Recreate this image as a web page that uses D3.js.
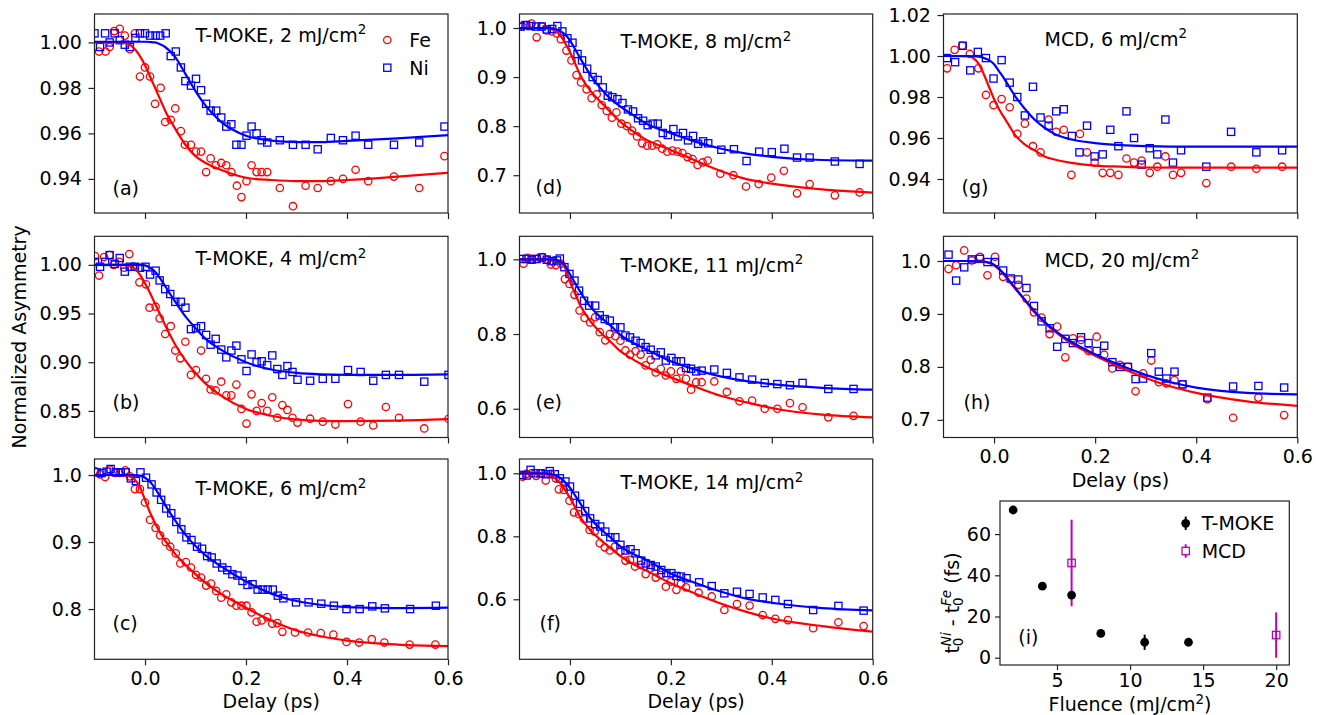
<!DOCTYPE html>
<html>
<head>
<meta charset="utf-8">
<script src="https://cdn.jsdelivr.net/npm/d3@7"></script>
<style>
  body { margin: 0; background: #fff; }
  text { font-family: "DejaVu Sans", sans-serif; fill: #000; }
</style>
</head>
<body>
<svg id="fig" width="1324" height="715"></svg>
<script>
// ---------- data ----------
// delay grid on which the fit curves were read
var fitX = [-0.1, -0.05, -0.03, -0.02, -0.01, 0.0, 0.01, 0.02, 0.03, 0.04, 0.06, 0.08, 0.1, 0.12, 0.15, 0.2, 0.25, 0.3, 0.35, 0.4, 0.5, 0.6];

// (a) T-MOKE 2 mJ/cm2
var feA = [[-0.091,0.996],[-0.078,0.996],[-0.070,0.998],[-0.061,1.005],[-0.050,1.006],[-0.040,1.003],[-0.030,0.997],[-0.020,1.004],[-0.010,0.985],[0.000,0.989],[0.010,0.985],[0.020,0.973],[0.031,0.980],[0.040,0.965],[0.051,0.966],[0.060,0.971],[0.071,0.961],[0.079,0.955],[0.091,0.955],[0.101,0.952],[0.111,0.952],[0.121,0.943],[0.130,0.949],[0.140,0.946],[0.151,0.947],[0.161,0.946],[0.171,0.943],[0.182,0.937],[0.191,0.932],[0.201,0.939],[0.211,0.946],[0.221,0.943],[0.231,0.943],[0.242,0.943],[0.267,0.936],[0.293,0.928],[0.318,0.937],[0.342,0.936],[0.368,0.939],[0.392,0.940],[0.417,0.944],[0.442,0.939],[0.493,0.941],[0.543,0.936],[0.593,0.950]];
var niA = [[-0.100,1.004],[-0.089,0.998],[-0.079,1.004],[-0.070,1.000],[-0.060,1.004],[-0.050,1.001],[-0.040,0.999],[-0.030,0.998],[-0.019,1.002],[-0.010,1.004],[0.000,1.004],[0.010,1.003],[0.021,1.003],[0.030,1.003],[0.041,1.004],[0.051,0.994],[0.061,0.996],[0.071,0.989],[0.080,0.983],[0.091,0.981],[0.101,0.984],[0.111,0.979],[0.121,0.973],[0.130,0.970],[0.141,0.970],[0.151,0.967],[0.161,0.963],[0.171,0.964],[0.181,0.955],[0.191,0.955],[0.201,0.959],[0.211,0.963],[0.221,0.960],[0.231,0.957],[0.242,0.956],[0.267,0.957],[0.293,0.955],[0.318,0.955],[0.342,0.953],[0.368,0.958],[0.392,0.957],[0.417,0.959],[0.442,0.955],[0.493,0.955],[0.543,0.956],[0.593,0.963]];
var fitFeA = [1.000,1.000,0.999,0.997,0.994,0.990,0.985,0.980,0.975,0.970,0.962,0.955,0.950,0.947,0.944,0.9405,0.9395,0.939,0.939,0.9395,0.941,0.9427];
var fitNiA = [1.0003,1.0003,1.0003,1.0003,1.0003,1.0003,1.0002,1.000,0.9992,0.998,0.9935,0.9862,0.9786,0.9722,0.9652,0.959,0.9568,0.9562,0.9562,0.9567,0.9578,0.9592];

// (b) T-MOKE 4 mJ/cm2
var feB = [[-0.099,1.009],[-0.091,0.989],[-0.081,1.008],[-0.070,1.010],[-0.062,1.000],[-0.051,1.003],[-0.041,0.997],[-0.031,1.011],[-0.021,0.998],[-0.011,0.982],[0.002,0.980],[0.009,0.956],[0.021,0.957],[0.029,0.945],[0.040,0.929],[0.051,0.937],[0.060,0.912],[0.070,0.904],[0.080,0.921],[0.091,0.887],[0.101,0.892],[0.111,0.912],[0.121,0.883],[0.130,0.872],[0.140,0.871],[0.151,0.880],[0.161,0.866],[0.171,0.866],[0.181,0.877],[0.191,0.852],[0.201,0.837],[0.211,0.867],[0.221,0.850],[0.231,0.858],[0.242,0.850],[0.252,0.864],[0.262,0.843],[0.272,0.856],[0.282,0.851],[0.292,0.843],[0.302,0.838],[0.327,0.842],[0.352,0.839],[0.377,0.836],[0.402,0.857],[0.427,0.839],[0.452,0.835],[0.477,0.854],[0.503,0.843],[0.553,0.832],[0.601,0.842]];
var niB = [[-0.099,1.003],[-0.089,0.998],[-0.079,1.003],[-0.070,1.010],[-0.060,1.001],[-0.050,1.007],[-0.040,0.993],[-0.030,0.998],[-0.020,0.998],[-0.010,0.997],[0.001,0.998],[0.010,0.990],[0.021,0.994],[0.029,0.984],[0.040,0.975],[0.050,0.970],[0.060,0.962],[0.071,0.962],[0.080,0.956],[0.091,0.934],[0.101,0.935],[0.111,0.937],[0.121,0.928],[0.130,0.918],[0.140,0.924],[0.151,0.913],[0.161,0.905],[0.171,0.912],[0.181,0.917],[0.191,0.903],[0.201,0.891],[0.211,0.908],[0.221,0.900],[0.231,0.901],[0.242,0.897],[0.252,0.907],[0.262,0.893],[0.272,0.887],[0.282,0.896],[0.292,0.890],[0.302,0.882],[0.327,0.881],[0.352,0.883],[0.377,0.883],[0.402,0.892],[0.427,0.890],[0.452,0.881],[0.477,0.887],[0.503,0.887],[0.553,0.880],[0.601,0.887]];
var fitFeB = [1.000,1.000,0.999,0.996,0.990,0.981,0.971,0.960,0.949,0.938,0.918,0.902,0.889,0.878,0.866,0.852,0.845,0.841,0.8398,0.8395,0.840,0.8415];
var fitNiB = [1.000,1.000,1.000,1.000,1.000,0.9995,0.997,0.993,0.986,0.978,0.962,0.947,0.935,0.924,0.913,0.900,0.8925,0.889,0.8875,0.887,0.887,0.8875];

// (c) T-MOKE 6 mJ/cm2
var feC = [[-0.099,1.006],[-0.089,1.001],[-0.079,0.997],[-0.070,1.008],[-0.059,1.003],[-0.050,1.003],[-0.039,1.007],[-0.030,0.998],[-0.020,0.979],[-0.010,0.979],[0.000,0.959],[0.010,0.933],[0.021,0.921],[0.030,0.910],[0.041,0.900],[0.050,0.893],[0.061,0.883],[0.070,0.868],[0.081,0.870],[0.091,0.862],[0.101,0.851],[0.111,0.847],[0.121,0.835],[0.131,0.838],[0.141,0.827],[0.151,0.817],[0.161,0.822],[0.171,0.810],[0.181,0.805],[0.191,0.805],[0.201,0.805],[0.211,0.795],[0.221,0.781],[0.231,0.783],[0.242,0.788],[0.252,0.778],[0.262,0.779],[0.272,0.766],[0.297,0.765],[0.323,0.765],[0.348,0.764],[0.373,0.762],[0.399,0.751],[0.424,0.750],[0.449,0.755],[0.474,0.750],[0.524,0.747],[0.575,0.747]];
var niC = [[-0.096,1.004],[-0.086,1.003],[-0.076,1.005],[-0.068,1.009],[-0.058,1.004],[-0.048,1.004],[-0.038,1.004],[-0.028,0.995],[-0.018,0.991],[-0.009,1.004],[0.002,0.996],[0.013,0.986],[0.023,0.974],[0.032,0.963],[0.042,0.950],[0.052,0.943],[0.062,0.930],[0.072,0.919],[0.082,0.907],[0.092,0.903],[0.103,0.893],[0.113,0.890],[0.123,0.879],[0.132,0.877],[0.142,0.868],[0.153,0.862],[0.163,0.858],[0.173,0.852],[0.183,0.850],[0.193,0.842],[0.203,0.836],[0.213,0.837],[0.223,0.829],[0.233,0.829],[0.243,0.829],[0.253,0.829],[0.263,0.820],[0.274,0.816],[0.299,0.810],[0.324,0.810],[0.349,0.808],[0.374,0.805],[0.399,0.800],[0.425,0.800],[0.450,0.804],[0.475,0.801],[0.525,0.800],[0.576,0.805]];
var fitFeC = [1.000,1.000,0.998,0.993,0.982,0.963,0.944,0.928,0.914,0.902,0.882,0.866,0.852,0.839,0.823,0.802,0.783,0.768,0.759,0.753,0.747,0.7448];
var fitNiC = [1.000,1.000,1.000,0.9995,0.999,0.996,0.990,0.980,0.968,0.955,0.932,0.911,0.894,0.880,0.864,0.841,0.823,0.812,0.806,0.803,0.8015,0.802];

// (d) T-MOKE 8 mJ/cm2
var feD = [[-0.094,1.003],[-0.086,1.006],[-0.076,1.009],[-0.066,0.981],[-0.056,1.003],[-0.046,0.995],[-0.036,0.993],[-0.026,0.989],[-0.018,0.977],[-0.007,0.954],[0.003,0.934],[0.013,0.904],[0.022,0.889],[0.033,0.875],[0.043,0.857],[0.053,0.865],[0.063,0.843],[0.073,0.831],[0.083,0.817],[0.092,0.828],[0.102,0.805],[0.113,0.800],[0.123,0.791],[0.133,0.779],[0.143,0.765],[0.153,0.760],[0.163,0.760],[0.173,0.763],[0.183,0.754],[0.193,0.748],[0.203,0.750],[0.213,0.748],[0.223,0.745],[0.233,0.737],[0.243,0.733],[0.253,0.721],[0.263,0.726],[0.273,0.730],[0.298,0.703],[0.324,0.700],[0.349,0.677],[0.374,0.682],[0.399,0.695],[0.424,0.709],[0.450,0.663],[0.475,0.682],[0.525,0.659],[0.574,0.665]];
var niD = [[-0.098,1.003],[-0.088,1.006],[-0.078,1.004],[-0.067,1.003],[-0.056,1.003],[-0.046,0.997],[-0.035,0.998],[-0.025,1.004],[-0.015,0.993],[-0.005,0.979],[0.005,0.970],[0.015,0.947],[0.024,0.934],[0.034,0.917],[0.045,0.900],[0.055,0.894],[0.065,0.879],[0.075,0.862],[0.084,0.859],[0.094,0.855],[0.104,0.847],[0.115,0.834],[0.125,0.830],[0.135,0.816],[0.145,0.811],[0.154,0.802],[0.164,0.805],[0.174,0.805],[0.184,0.786],[0.194,0.782],[0.205,0.794],[0.214,0.779],[0.224,0.786],[0.234,0.771],[0.244,0.780],[0.254,0.764],[0.264,0.769],[0.274,0.765],[0.300,0.752],[0.325,0.753],[0.350,0.729],[0.375,0.748],[0.400,0.747],[0.425,0.754],[0.450,0.736],[0.475,0.736],[0.525,0.728],[0.574,0.723]];
var fitFeD = [1.000,0.9995,0.995,0.986,0.970,0.951,0.928,0.905,0.887,0.873,0.850,0.829,0.809,0.793,0.773,0.7515,0.729,0.708,0.692,0.683,0.671,0.6646];
var fitNiD = [1.000,1.000,0.998,0.994,0.987,0.975,0.957,0.939,0.922,0.905,0.878,0.856,0.840,0.826,0.806,0.7855,0.768,0.754,0.744,0.7375,0.731,0.7298];

// (e) T-MOKE 11 mJ/cm2
var feE = [[-0.092,0.988],[-0.084,1.004],[-0.075,1.001],[-0.065,1.001],[-0.055,1.006],[-0.045,0.999],[-0.038,0.986],[-0.028,0.984],[-0.018,0.988],[-0.010,0.947],[-0.001,0.934],[0.009,0.905],[0.019,0.863],[0.029,0.843],[0.040,0.831],[0.050,0.845],[0.059,0.805],[0.070,0.783],[0.079,0.800],[0.090,0.794],[0.100,0.782],[0.110,0.756],[0.119,0.745],[0.130,0.754],[0.140,0.745],[0.150,0.716],[0.160,0.731],[0.170,0.697],[0.180,0.707],[0.190,0.689],[0.200,0.700],[0.211,0.680],[0.220,0.700],[0.230,0.680],[0.240,0.651],[0.250,0.671],[0.261,0.671],[0.286,0.673],[0.311,0.645],[0.336,0.620],[0.361,0.622],[0.386,0.600],[0.411,0.600],[0.436,0.615],[0.461,0.604],[0.512,0.577],[0.562,0.581]];
var niE = [[-0.096,1.001],[-0.086,1.001],[-0.076,0.999],[-0.066,1.001],[-0.056,1.005],[-0.046,0.999],[-0.036,0.995],[-0.026,0.997],[-0.020,1.002],[-0.011,0.979],[-0.001,0.961],[0.009,0.943],[0.018,0.916],[0.028,0.889],[0.038,0.876],[0.050,0.876],[0.059,0.850],[0.069,0.840],[0.079,0.836],[0.089,0.818],[0.100,0.818],[0.110,0.796],[0.119,0.791],[0.130,0.782],[0.140,0.776],[0.150,0.765],[0.160,0.758],[0.170,0.743],[0.180,0.751],[0.190,0.729],[0.201,0.736],[0.211,0.727],[0.220,0.727],[0.230,0.709],[0.240,0.707],[0.250,0.700],[0.261,0.702],[0.286,0.705],[0.311,0.696],[0.336,0.684],[0.361,0.678],[0.386,0.669],[0.411,0.666],[0.436,0.663],[0.461,0.669],[0.512,0.653],[0.562,0.653]];
var fitFeE = [1.000,1.000,0.998,0.993,0.978,0.940,0.909,0.878,0.855,0.835,0.805,0.780,0.754,0.736,0.713,0.684,0.658,0.634,0.617,0.602,0.584,0.5768];
var fitNiE = [1.000,1.000,0.999,0.995,0.984,0.960,0.937,0.914,0.893,0.874,0.846,0.823,0.798,0.780,0.760,0.727,0.704,0.686,0.674,0.666,0.656,0.651];

// (f) T-MOKE 14 mJ/cm2
var feF = [[-0.094,0.989],[-0.086,0.998],[-0.076,1.000],[-0.067,0.992],[-0.057,1.000],[-0.048,0.977],[-0.038,0.998],[-0.028,0.984],[-0.022,0.949],[-0.012,0.947],[-0.001,0.913],[0.008,0.876],[0.018,0.870],[0.028,0.854],[0.039,0.820],[0.049,0.815],[0.059,0.778],[0.069,0.765],[0.079,0.755],[0.089,0.767],[0.100,0.751],[0.110,0.723],[0.119,0.725],[0.129,0.704],[0.140,0.709],[0.150,0.680],[0.160,0.698],[0.170,0.669],[0.180,0.677],[0.190,0.640],[0.200,0.656],[0.211,0.630],[0.220,0.649],[0.230,0.638],[0.255,0.621],[0.281,0.609],[0.306,0.566],[0.331,0.585],[0.356,0.580],[0.382,0.550],[0.407,0.538],[0.432,0.534],[0.482,0.508],[0.532,0.527],[0.582,0.515]];
var niF = [[-0.096,0.995],[-0.086,0.993],[-0.078,1.011],[-0.068,1.000],[-0.058,1.000],[-0.048,0.997],[-0.040,1.007],[-0.030,0.997],[-0.020,0.984],[-0.009,0.974],[0.000,0.958],[0.010,0.929],[0.020,0.903],[0.030,0.880],[0.040,0.857],[0.050,0.839],[0.060,0.831],[0.070,0.815],[0.080,0.797],[0.090,0.797],[0.100,0.773],[0.110,0.755],[0.120,0.759],[0.130,0.746],[0.141,0.723],[0.150,0.714],[0.160,0.709],[0.170,0.704],[0.181,0.693],[0.191,0.683],[0.201,0.683],[0.211,0.674],[0.220,0.672],[0.231,0.667],[0.256,0.654],[0.281,0.642],[0.306,0.619],[0.331,0.624],[0.356,0.617],[0.382,0.606],[0.407,0.598],[0.432,0.585],[0.482,0.566],[0.532,0.579],[0.582,0.564]];
var fitFeF = [1.000,0.998,0.985,0.970,0.948,0.922,0.893,0.862,0.840,0.820,0.790,0.763,0.737,0.717,0.692,0.651,0.617,0.586,0.560,0.539,0.515,0.4974];
var fitNiF = [1.000,0.9995,0.994,0.986,0.972,0.954,0.930,0.906,0.880,0.858,0.824,0.797,0.768,0.748,0.726,0.682,0.651,0.624,0.602,0.589,0.572,0.565];

// (g) MCD 6 mJ/cm2
var feG = [[-0.093,0.994],[-0.078,1.003],[-0.063,1.005],[-0.048,1.001],[-0.031,0.994],[-0.016,0.981],[-0.001,0.976],[0.015,0.979],[0.031,0.975],[0.046,0.962],[0.061,0.967],[0.077,0.956],[0.092,0.953],[0.108,0.969],[0.123,0.963],[0.138,0.964],[0.153,0.942],[0.170,0.962],[0.184,0.953],[0.199,0.948],[0.215,0.943],[0.230,0.943],[0.246,0.942],[0.262,0.950],[0.277,0.948],[0.292,0.949],[0.308,0.943],[0.323,0.946],[0.339,0.951],[0.354,0.942],[0.370,0.943],[0.420,0.938],[0.469,0.946],[0.519,0.945],[0.570,0.946]];
var niG = [[-0.093,0.999],[-0.077,0.997],[-0.062,1.005],[-0.047,0.993],[-0.032,1.002],[-0.016,0.999],[-0.001,0.989],[0.015,0.998],[0.031,0.987],[0.046,0.980],[0.061,0.971],[0.077,0.985],[0.092,0.970],[0.108,0.966],[0.123,0.973],[0.138,0.974],[0.154,0.961],[0.169,0.953],[0.184,0.966],[0.199,0.951],[0.215,0.952],[0.230,0.964],[0.246,0.956],[0.262,0.973],[0.277,0.960],[0.292,0.947],[0.308,0.955],[0.323,0.952],[0.339,0.969],[0.354,0.948],[0.370,0.954],[0.420,0.946],[0.469,0.963],[0.519,0.953],[0.570,0.954]];
var fitFeG = [1.000,0.9998,0.996,0.991,0.985,0.979,0.974,0.970,0.966,0.962,0.957,0.954,0.951,0.9495,0.948,0.9465,0.946,0.9456,0.9455,0.9455,0.9455,0.9455];
var fitNiG = [1.000,1.000,0.9997,0.999,0.998,0.996,0.9925,0.989,0.985,0.981,0.9745,0.969,0.965,0.962,0.9595,0.9575,0.9565,0.956,0.9558,0.9558,0.9558,0.9558];

// (h) MCD 20 mJ/cm2
var feH = [[-0.090,0.985],[-0.075,0.992],[-0.059,1.020],[-0.044,1.001],[-0.028,1.008],[-0.013,0.973],[0.002,1.008],[0.018,0.970],[0.033,0.965],[0.048,0.955],[0.064,0.929],[0.079,0.903],[0.094,0.893],[0.110,0.862],[0.125,0.876],[0.141,0.818],[0.156,0.854],[0.172,0.851],[0.187,0.830],[0.203,0.857],[0.218,0.823],[0.234,0.797],[0.249,0.804],[0.265,0.800],[0.280,0.754],[0.295,0.788],[0.311,0.812],[0.326,0.771],[0.341,0.769],[0.357,0.775],[0.373,0.767],[0.422,0.739],[0.473,0.704],[0.523,0.742],[0.574,0.709]];
var niH = [[-0.090,1.012],[-0.075,0.963],[-0.059,0.988],[-0.044,1.003],[-0.028,1.004],[-0.013,0.998],[0.002,0.998],[0.018,0.982],[0.033,0.967],[0.048,0.965],[0.064,0.949],[0.079,0.915],[0.094,0.886],[0.110,0.873],[0.125,0.838],[0.141,0.853],[0.156,0.845],[0.172,0.856],[0.187,0.845],[0.203,0.830],[0.218,0.840],[0.234,0.809],[0.249,0.800],[0.265,0.800],[0.280,0.777],[0.295,0.778],[0.311,0.826],[0.326,0.791],[0.341,0.778],[0.357,0.791],[0.373,0.767],[0.422,0.742],[0.473,0.763],[0.523,0.764],[0.574,0.761]];
var fitFeH = [1.000,1.000,0.9995,0.9985,0.996,0.992,0.984,0.974,0.962,0.950,0.927,0.903,0.883,0.867,0.846,0.821,0.799,0.779,0.763,0.751,0.735,0.7265];
var fitNiH = [1.000,1.000,0.9995,0.999,0.997,0.993,0.985,0.975,0.963,0.951,0.928,0.905,0.885,0.869,0.849,0.824,0.803,0.785,0.771,0.761,0.751,0.748];

// (i) onset delay Ni vs Fe
var mokeFluence = [2, 4, 6, 8, 11, 14];
var mokeShift = [71.7, 34.7, 30.4, 11.8, 7.5, 7.5];
var mokeErr = [1.0, 1.0, 1.5, 1.0, 3.7, 1.0];
var mcdFluence = [6, 20];
var mcdShift = [46, 11];
var mcdErr = [21, 11];

// ---------- layout ----------
var FS = 19;
var cols = [[94.5, 448], [519.5, 872.7], [943.5, 1297.3]];
var rows = [[14, 213], [236.3, 437.5], [459, 659.3]];

var panels = [
  {id: "a", col: 0, row: 0, fe: feA, ni: niA, fitFe: fitFeA, fitNi: fitNiA, dom: [0.925, 1.0125], ticks: [0.94, 0.96, 0.98, 1.00], fmt: ".2f", title: "T-MOKE, 2 mJ/cm", tY: 27.5, lab: "(a)", lX: 18, lY: 18.5, xlab: false},
  {id: "b", col: 0, row: 1, fe: feB, ni: niB, fitFe: fitFeB, fitNi: fitNiB, dom: [0.8227, 1.0293], ticks: [0.85, 0.90, 0.95, 1.00], fmt: ".2f", title: "T-MOKE, 4 mJ/cm", tY: 28.7, lab: "(b)", lX: 18, lY: 28.2, xlab: false},
  {id: "c", col: 0, row: 2, fe: feC, ni: niC, fitFe: fitFeC, fitNi: fitNiC, dom: [0.725, 1.0239], ticks: [0.8, 0.9, 1.0], fmt: ".1f", title: "T-MOKE, 6 mJ/cm", tY: 36, lab: "(c)", lX: 18, lY: 29, xlab: true},
  {id: "d", col: 1, row: 0, fe: feD, ni: niD, fitFe: fitFeD, fitNi: fitNiD, dom: [0.623, 1.0285], ticks: [0.7, 0.8, 0.9, 1.0], fmt: ".1f", title: "T-MOKE, 8 mJ/cm", tY: 34.3, lab: "(d)", lX: 16, lY: 18.7, xlab: false},
  {id: "e", col: 1, row: 1, fe: feE, ni: niE, fitFe: fitFeE, fitNi: fitNiE, dom: [0.523, 1.0616], ticks: [0.6, 0.8, 1.0], fmt: ".1f", title: "T-MOKE, 11 mJ/cm", tY: 35.4, lab: "(e)", lX: 16, lY: 28.2, xlab: false},
  {id: "f", col: 1, row: 2, fe: feF, ni: niF, fitFe: fitFeF, fitNi: fitNiF, dom: [0.4095, 1.0454], ticks: [0.6, 0.8, 1.0], fmt: ".1f", title: "T-MOKE, 14 mJ/cm", tY: 30.3, lab: "(f)", lX: 20, lY: 29, xlab: true},
  {id: "g", col: 2, row: 0, fe: feG, ni: niG, fitFe: fitFeG, fitNi: fitNiG, dom: [0.9234, 1.0205], ticks: [0.94, 0.96, 0.98, 1.00, 1.02], fmt: ".2f", title: "MCD, 6 mJ/cm", tY: 31.7, lab: "(g)", lX: 18, lY: 18.7, xlab: false},
  {id: "h", col: 2, row: 1, fe: feH, ni: niH, fitFe: fitFeH, fitNi: fitNiH, dom: [0.6667, 1.0466], ticks: [0.7, 0.8, 0.9, 1.0], fmt: ".1f", title: "MCD, 20 mJ/cm", tY: 30.4, lab: "(h)", lX: 20, lY: 28.2, xlab: true}
];

var svg = d3.select("#fig");
var defs = svg.append("defs");

// text with a small raised "2" (mJ/cm^2)
function supText(sel, main, sup, tail) {
  sel.append("tspan").text(main);
  sel.append("tspan").attr("font-size", 13.5).attr("dy", -7.5).text(sup);
  if (tail) sel.append("tspan").attr("dy", 7.5).text(tail);
  return sel;
}

function styleAxis(g) {
  g.select(".domain").remove();
  g.selectAll("line").attr("stroke", "#222").attr("stroke-width", 1.2);
  g.selectAll("text").attr("font-size", FS).attr("font-family", "DejaVu Sans").attr("fill", "#000");
}

function drawPanel(p) {
  var x0 = cols[p.col][0], x1 = cols[p.col][1];
  var y0 = rows[p.row][0], y1 = rows[p.row][1];

  var x = d3.scaleLinear().domain([-0.1, 0.6]).range([x0, x1]);
  var y = d3.scaleLinear().domain(p.dom).range([y1, y0]);

  var g = svg.append("g").attr("class", "panel-" + p.id);

  defs.append("clipPath").attr("id", "clip-" + p.id)
    .append("rect").attr("x", x0).attr("y", y0).attr("width", x1 - x0).attr("height", y1 - y0);

  var plot = g.append("g").attr("clip-path", "url(#clip-" + p.id + ")");

  // Fe: open red circles
  plot.selectAll("circle.fe").data(p.fe).join("circle")
    .attr("class", "fe")
    .attr("cx", function(d) { return x(d[0]); })
    .attr("cy", function(d) { return y(d[1]); })
    .attr("r", 3.7)
    .attr("fill", "none").attr("stroke", "#ff0000").attr("stroke-width", 1.3);

  // Ni: open blue squares
  plot.selectAll("rect.ni").data(p.ni).join("rect")
    .attr("class", "ni")
    .attr("x", function(d) { return x(d[0]) - 3.6; })
    .attr("y", function(d) { return y(d[1]) - 3.6; })
    .attr("width", 7.2).attr("height", 7.2)
    .attr("fill", "none").attr("stroke", "#0000ff").attr("stroke-width", 1.3);

  // fit curves
  var line = d3.line()
    .x(function(d, i) { return x(fitX[i]); })
    .y(function(d) { return y(d); })
    .curve(d3.curveMonotoneX);
  plot.append("path").datum(p.fitFe).attr("d", line)
    .attr("fill", "none").attr("stroke", "#ff0000").attr("stroke-width", 2.2);
  plot.append("path").datum(p.fitNi).attr("d", line)
    .attr("fill", "none").attr("stroke", "#0000ff").attr("stroke-width", 2.2);

  // axes
  var ax = d3.axisBottom(x).tickValues([0, 0.2, 0.4, 0.6]).tickSize(6).tickPadding(6.4)
    .tickFormat(p.xlab ? d3.format(".1f") : function() { return ""; });
  g.append("g").attr("transform", "translate(0," + y1 + ")").call(ax).call(styleAxis);

  var ay = d3.axisLeft(y).tickValues(p.ticks).tickSize(6).tickPadding(6.6).tickFormat(d3.format(p.fmt));
  g.append("g").attr("transform", "translate(" + x0 + ",0)").call(ay).call(styleAxis);

  g.append("rect")
    .attr("x", x0).attr("y", y0).attr("width", x1 - x0).attr("height", y1 - y0)
    .attr("fill", "none").attr("stroke", "#222").attr("stroke-width", 1.2);

  // title and panel letter
  supText(g.append("text").attr("x", x(0.1)).attr("y", y0 + p.tY).attr("font-size", FS), p.title, "2");
  g.append("text").attr("x", x0 + p.lX).attr("y", y1 - p.lY).attr("font-size", FS).text(p.lab);

  if (p.xlab) {
    g.append("text").attr("x", (x0 + x1) / 2).attr("y", y1 + 49)
      .attr("text-anchor", "middle").attr("font-size", FS).text("Delay (ps)");
  }
  return {x: x, y: y, g: g};
}

panels.forEach(drawPanel);

// legend of panel (a)
var leg = svg.append("g");
leg.append("circle").attr("cx", 387.3).attr("cy", 40).attr("r", 3.7)
  .attr("fill", "none").attr("stroke", "#ff0000").attr("stroke-width", 1.3);
leg.append("text").attr("x", 409.3).attr("y", 46.7).attr("font-size", FS).text("Fe");
leg.append("rect").attr("x", 387.3 - 3.6).attr("y", 67.7 - 3.6).attr("width", 7.2).attr("height", 7.2)
  .attr("fill", "none").attr("stroke", "#0000ff").attr("stroke-width", 1.3);
leg.append("text").attr("x", 409.3).attr("y", 74.6).attr("font-size", FS).text("Ni");

// shared y label
svg.append("text")
  .attr("transform", "translate(25.5," + ((rows[1][0] + rows[1][1]) / 2) + ") rotate(-90)")
  .attr("text-anchor", "middle").attr("font-size", FS)
  .text("Normalized Asymmetry");

// ---------- panel (i) ----------
(function() {
  var x0 = 1000, x1 = 1289.3, y0 = 501, y1 = 665;
  var x = d3.scaleLinear().domain([1.1, 20.9]).range([x0, x1]);
  var y = d3.scaleLinear().domain([-3.54, 76.07]).range([y1, y0]);
  var g = svg.append("g").attr("class", "panel-i");
  var mag = "#bf00bf";

  var moke = mokeFluence.map(function(f, i) { return {f: f, v: mokeShift[i], e: mokeErr[i]}; });
  var mcd = mcdFluence.map(function(f, i) { return {f: f, v: mcdShift[i], e: mcdErr[i]}; });

  // MCD first, T-MOKE on top
  g.selectAll("line.ec").data(mcd).join("line").attr("class", "ec")
    .attr("x1", function(d) { return x(d.f); }).attr("x2", function(d) { return x(d.f); })
    .attr("y1", function(d) { return y(d.v - d.e); }).attr("y2", function(d) { return y(d.v + d.e); })
    .attr("stroke", mag).attr("stroke-width", 2);
  g.selectAll("rect.c").data(mcd).join("rect").attr("class", "c")
    .attr("x", function(d) { return x(d.f) - 3.7; }).attr("y", function(d) { return y(d.v) - 3.7; })
    .attr("width", 7.4).attr("height", 7.4)
    .attr("fill", "none").attr("stroke", mag).attr("stroke-width", 1.3);

  g.selectAll("line.em").data(moke).join("line").attr("class", "em")
    .attr("x1", function(d) { return x(d.f); }).attr("x2", function(d) { return x(d.f); })
    .attr("y1", function(d) { return y(d.v - d.e); }).attr("y2", function(d) { return y(d.v + d.e); })
    .attr("stroke", "#000").attr("stroke-width", 2);
  g.selectAll("circle.m").data(moke).join("circle").attr("class", "m")
    .attr("cx", function(d) { return x(d.f); }).attr("cy", function(d) { return y(d.v); })
    .attr("r", 4.4).attr("fill", "#000");

  var ax = d3.axisBottom(x).tickValues([5, 10, 15, 20]).tickSize(5).tickPadding(4);
  g.append("g").attr("transform", "translate(0," + y1 + ")").call(ax).call(styleAxis);
  var ay = d3.axisLeft(y).tickValues([0, 20, 40, 60]).tickSize(5).tickPadding(4);
  g.append("g").attr("transform", "translate(" + x0 + ",0)").call(ay).call(styleAxis);
  g.append("rect").attr("x", x0).attr("y", y0).attr("width", x1 - x0).attr("height", y1 - y0)
    .attr("fill", "none").attr("stroke", "#222").attr("stroke-width", 1.2);

  g.append("text").attr("x", 1018.3).attr("y", 643.7).attr("font-size", FS).text("(i)");

  // legend
  g.append("line").attr("x1", 1185.7).attr("x2", 1185.7).attr("y1", 516.6).attr("y2", 530)
    .attr("stroke", "#000").attr("stroke-width", 2);
  g.append("circle").attr("cx", 1185.7).attr("cy", 523.3).attr("r", 4.4).attr("fill", "#000");
  g.append("text").attr("x", 1201.7).attr("y", 530).attr("font-size", FS).text("T-MOKE");
  g.append("line").attr("x1", 1185.7).attr("x2", 1185.7).attr("y1", 544.3).attr("y2", 557.7)
    .attr("stroke", mag).attr("stroke-width", 2);
  g.append("rect").attr("x", 1185.7 - 3.7).attr("y", 551 - 3.7).attr("width", 7.4).attr("height", 7.4)
    .attr("fill", "#fff").attr("stroke", mag).attr("stroke-width", 1.3);
  g.append("text").attr("x", 1201.7).attr("y", 557.8).attr("font-size", FS).text("MCD");

  // axis labels
  supText(g.append("text").attr("x", 1130).attr("y", 711).attr("text-anchor", "middle").attr("font-size", FS),
    "Fluence (mJ/cm", "2", ")");

  var yl = g.append("text")
    .attr("transform", "translate(959,603) rotate(-90)")
    .attr("text-anchor", "middle").attr("font-size", FS);
  yl.append("tspan").text("t");
  yl.append("tspan").attr("font-size", 13.5).attr("dy", 4).text("0");
  yl.append("tspan").attr("font-size", 13.5).attr("font-style", "italic").attr("dx", -8.6).attr("dy", -12).text("Ni");
  yl.append("tspan").attr("dy", 8).text(" - t");
  yl.append("tspan").attr("font-size", 13.5).attr("dy", 4).text("0");
  yl.append("tspan").attr("font-size", 13.5).attr("font-style", "italic").attr("dx", -8.6).attr("dy", -12).text("Fe");
  yl.append("tspan").attr("dy", 8).text(" (fs)");
})();
</script>
</body>
</html>
